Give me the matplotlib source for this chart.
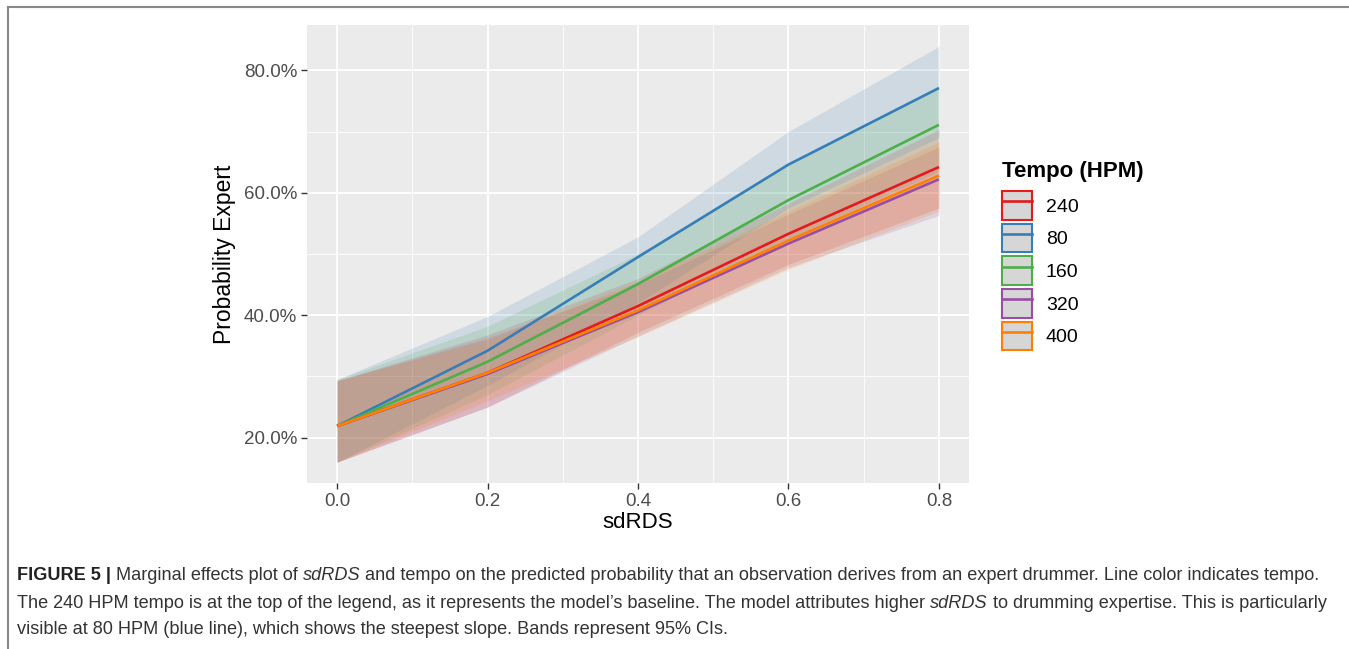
import matplotlib
matplotlib.use("Agg")
import matplotlib.pyplot as plt
from matplotlib.patches import Patch
from matplotlib.lines import Line2D
from matplotlib.ticker import FixedLocator, FuncFormatter

plt.rcParams['font.family'] = ['Liberation Sans', 'DejaVu Sans']

# values
sd_rds = [0.0, 0.2, 0.4, 0.6, 0.8]
tempos = ["240", "80", "160", "320", "400"]
colors = ["#E41A1C", "#377EB8", "#4DAF4A", "#984EA3", "#FF7F00"]

prob_240 = [21.9, 30.6, 41.5, 53.3, 64.2]
prob_80 = [21.9, 34.2, 49.5, 64.6, 77.1]
prob_160 = [21.9, 32.4, 45.1, 58.8, 71.1]
prob_320 = [21.9, 30.4, 40.5, 51.7, 62.2]
prob_400 = [21.9, 30.6, 40.8, 52.2, 62.8]

lo_240 = [16.0, 25.0, 37.2, 48.3, 57.5]
hi_240 = [29.3, 36.8, 46.0, 58.3, 70.3]
lo_80 = [16.0, 28.5, 42.0, 57.5, 69.0]
hi_80 = [29.5, 39.8, 52.8, 70.0, 83.9]
lo_160 = [16.0, 27.0, 40.0, 52.5, 63.5]
hi_160 = [29.5, 38.2, 50.0, 64.5, 77.5]
lo_320 = [16.0, 25.0, 36.6, 47.8, 56.3]
hi_320 = [29.3, 36.3, 45.0, 56.5, 67.5]
lo_400 = [16.0, 26.0, 36.5, 47.5, 57.0]
hi_400 = [29.3, 36.0, 45.5, 57.0, 68.3]

probs = [prob_240, prob_80, prob_160, prob_320, prob_400]
lows = [lo_240, lo_80, lo_160, lo_320, lo_400]
highs = [hi_240, hi_80, hi_160, hi_320, hi_400]

y_ticks = [20, 40, 60, 80]
x_ticks = [0.0, 0.2, 0.4, 0.6, 0.8]

W, H = 1349, 649
fig = plt.figure(figsize=(W / 100, H / 100), dpi=100)
ax = fig.add_axes([307 / W, 1 - 483 / H, (969 - 307) / W, (483 - 25) / H])
ax.set_facecolor("#EBEBEB")
for s in ax.spines.values():
    s.set_visible(False)

for lo, hi, c in zip(lows, highs, colors):
    ax.fill_between(sd_rds, lo, hi, color=c, alpha=0.16, linewidth=0)
for p, c in zip(probs, colors):
    ax.plot(sd_rds, p, color=c, lw=1.9, solid_capstyle="butt", zorder=3)

ax.set_xlim(-0.04, 0.84)
ax.set_ylim(12.6, 87.4)
ax.xaxis.set_major_locator(FixedLocator(x_ticks))
ax.xaxis.set_minor_locator(FixedLocator([0.1, 0.3, 0.5, 0.7]))
ax.yaxis.set_major_locator(FixedLocator(y_ticks))
ax.yaxis.set_minor_locator(FixedLocator([30, 50, 70]))
ax.yaxis.set_major_formatter(FuncFormatter(lambda v, _: f"{v:.1f}%"))
ax.xaxis.set_major_formatter(FuncFormatter(lambda v, _: f"{v:.1f}"))
ax.grid(which="major", color="white", lw=1.3)
ax.grid(which="minor", color="white", lw=0.6)
ax.set_axisbelow(True)
ax.tick_params(which="major", length=4, width=1, color="#333333",
               labelsize=13.5, labelcolor="#4D4D4D", pad=3)
ax.tick_params(which="minor", length=0)
ax.set_xlabel("sdRDS", fontsize=16, labelpad=2)
ax.set_ylabel("Probability Expert", fontsize=16.5, labelpad=6)

# legend (title drawn separately for exact spacing)
fig.text(1002 / W, 1 - 172 / H, "Tempo (HPM)", fontsize=16, weight="bold",
         ha="left", va="center")
handles = []
for c in colors:
    handles.append((Patch(facecolor="#D6D6D6", edgecolor=c, lw=1.5),
                    Line2D([], [], color=c, lw=1.9)))
leg = fig.legend(handles, tempos, loc="upper left",
                 bbox_to_anchor=(1002 / W, 1 - 191 / H), frameon=False,
                 fontsize=14, handlelength=1.55, handleheight=1.9, labelspacing=0.2,
                 handletextpad=0.7, borderpad=0, borderaxespad=0)

# frame around figure (top and left edges)
fig.add_artist(Line2D([8 / W, 8 / W], [0, 1 - 7 / H], color="#888888", lw=1.5,
                      transform=fig.transFigure))
fig.add_artist(Line2D([8 / W, 1], [1 - 7 / H, 1 - 7 / H], color="#888888", lw=1.5,
                      transform=fig.transFigure))

# caption with mixed styles
cap_lines = [
    [("FIGURE 5 | ", "bold"), ("Marginal effects plot of ", "normal"), ("sdRDS", "italic"),
     (" and tempo on the predicted probability that an observation derives from an expert drummer. Line color indicates tempo.", "normal")],
    [("The 240 HPM tempo is at the top of the legend, as it represents the model\u2019s baseline. The model attributes higher ", "normal"),
     ("sdRDS", "italic"), (" to drumming expertise. This is particularly", "normal")],
    [("visible at 80 HPM (blue line), which shows the steepest slope. Bands represent 95% CIs.", "normal")],
]
cap_y = [575, 603, 630]
renderer = fig.canvas.get_renderer()
for line, yy in zip(cap_lines, cap_y):
    x = 17
    for txt, style in line:
        kw = dict(fontsize=13.05, color="#333333", va="center", ha="left")
        if style == "bold":
            kw.update(weight="bold", color="#222222")
        elif style == "italic":
            kw.update(style="italic")
        t = fig.text(x / W, 1 - yy / H, txt, **kw)
        bb = t.get_window_extent(renderer)
        x += bb.width

fig.savefig("out.png", dpi=100)
